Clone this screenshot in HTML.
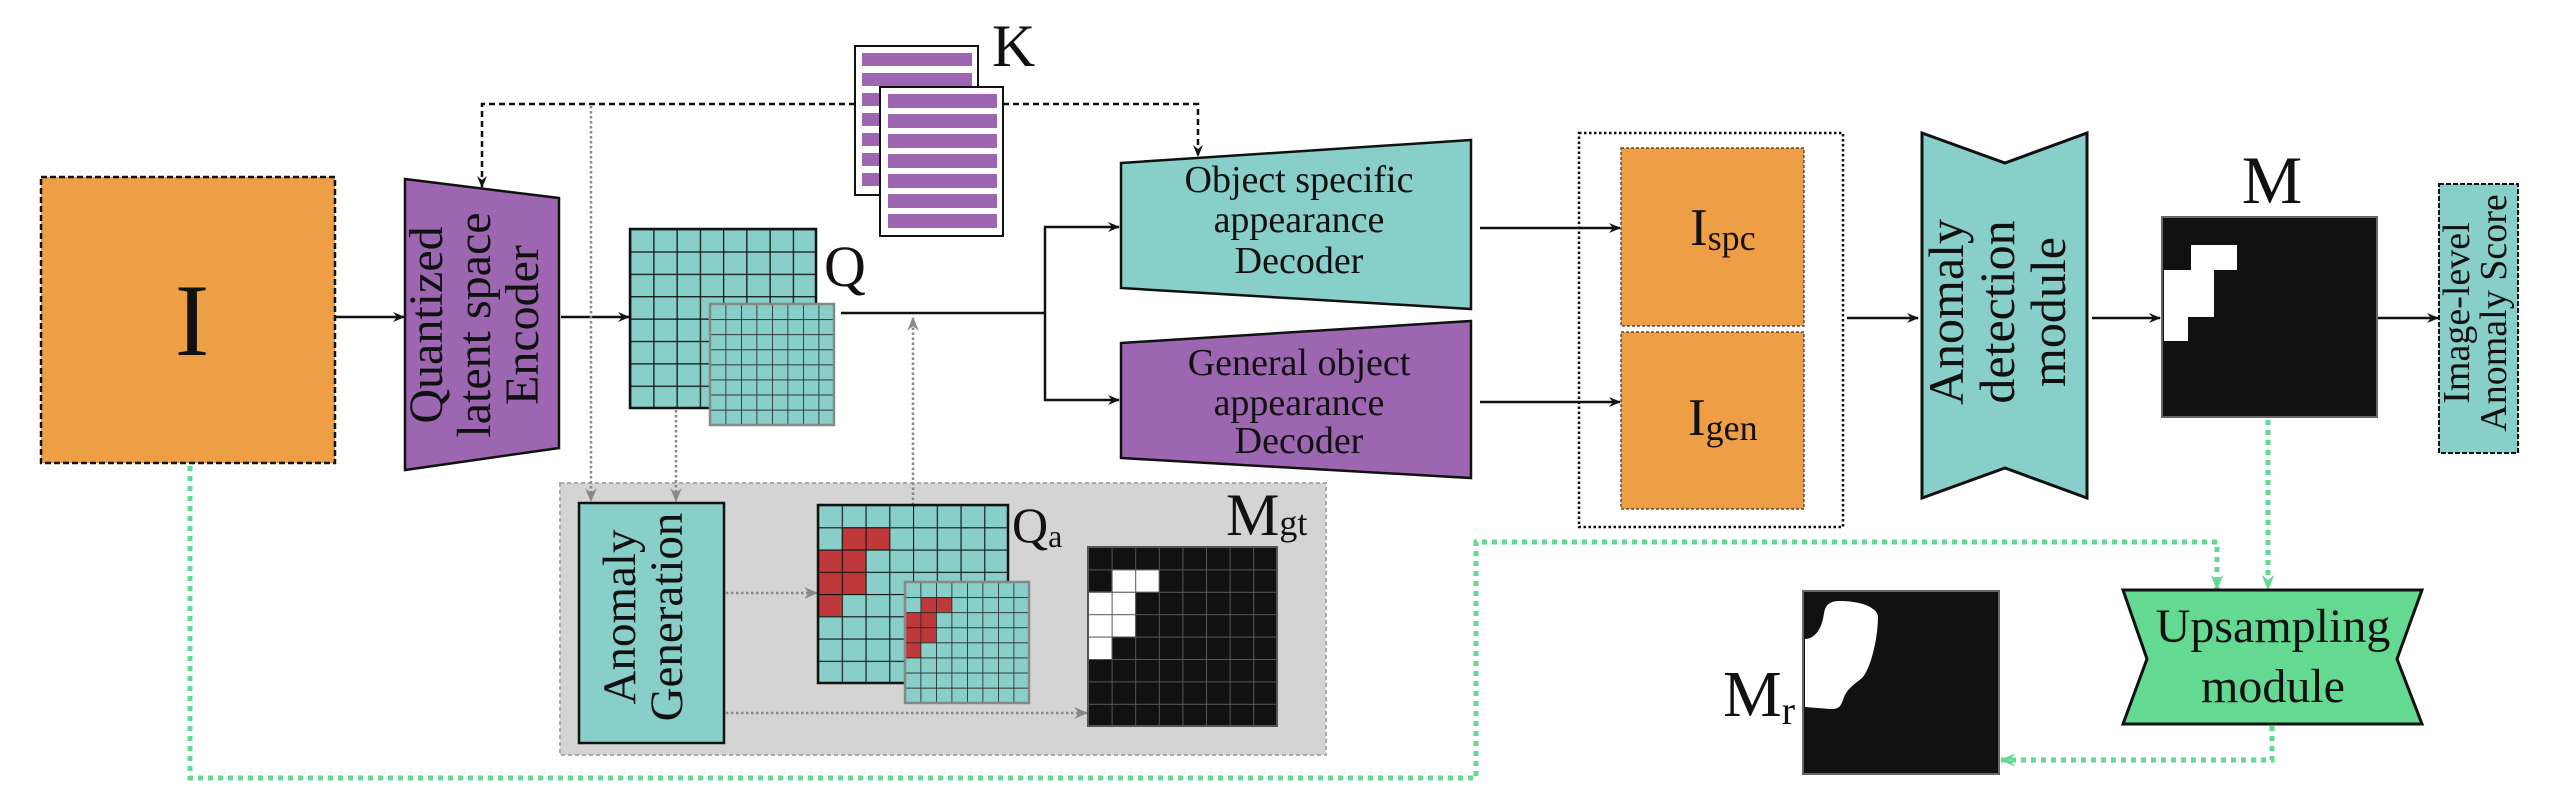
<!DOCTYPE html>
<html><head><meta charset="utf-8"><style>html,body{margin:0;padding:0;background:#fff}svg{display:block;font-family:"Liberation Serif","DejaVu Serif",serif}text,tspan{font-family:"Liberation Serif","DejaVu Serif",serif;fill:#111}</style></head><body>
<svg width="2556" height="802" viewBox="0 0 2556 802" xmlns="http://www.w3.org/2000/svg" font-family="Liberation Serif, DejaVu Serif, serif">
<defs>
<marker id="ab" viewBox="0 0 12 10" refX="11" refY="5" markerWidth="12" markerHeight="10" markerUnits="userSpaceOnUse" orient="auto"><path d="M0 0 L12 5 L0 10 L4 5 Z" fill="#111"/></marker>
<marker id="ag" viewBox="0 0 12 10" refX="11" refY="5" markerWidth="14" markerHeight="12" markerUnits="userSpaceOnUse" orient="auto"><path d="M0 0 L12 5 L0 10 L4 5 Z" fill="#888"/></marker>
<marker id="agr" viewBox="0 0 12 10" refX="11" refY="5" markerWidth="16" markerHeight="13" markerUnits="userSpaceOnUse" orient="auto"><path d="M0 0 L12 5 L0 10 L4 5 Z" fill="#63D992"/></marker>
<pattern id="pQ" patternUnits="userSpaceOnUse" x="630" y="229" width="23.25" height="22.375"><path d="M0 0H23.25M0 0V22.375" stroke="#111" stroke-width="2.5" fill="none"/></pattern>
<pattern id="pQ2" patternUnits="userSpaceOnUse" x="710" y="304" width="15.5" height="15.1"><path d="M0 0H15.5M0 0V15.1" stroke="#222" stroke-width="1.6" fill="none"/></pattern>
<pattern id="pQa" patternUnits="userSpaceOnUse" x="818" y="505" width="23.75" height="22.25"><path d="M0 0H23.75M0 0V22.25" stroke="#111" stroke-width="2.2" fill="none"/></pattern>
<pattern id="pQa2" patternUnits="userSpaceOnUse" x="905" y="582" width="15.5" height="15.1"><path d="M0 0H15.5M0 0V15.1" stroke="#222" stroke-width="1.6" fill="none"/></pattern>
<pattern id="pM" patternUnits="userSpaceOnUse" x="1088" y="547" width="23.6" height="22.4"><path d="M0 0H23.6M0 0V22.4" stroke="#555" stroke-width="2" fill="none"/></pattern>
</defs>

<rect x="560" y="483" width="766" height="272" fill="#D4D4D4" stroke="#aaa" stroke-width="2" stroke-dasharray="4 3"/>

<rect x="41" y="177" width="294" height="286" fill="#EE9E45" stroke="#111" stroke-width="2.5" stroke-dasharray="6 3"/>
<text x="192" y="355" font-size="103" text-anchor="middle">I</text>

<polygon points="405,179 559,198 559,448 405,470" fill="#9C67B0" stroke="#111" stroke-width="2.5"/>
<g transform="translate(490,325) rotate(-90)" font-size="48" text-anchor="middle">
<text x="0" y="-48">Quantized</text>
<text x="0" y="0">latent space</text>
<text x="0" y="48">Encoder</text>
</g>

<rect x="855" y="46" width="123" height="149" fill="#fff" stroke="#111" stroke-width="2"/>
<g fill="#9C67B0">
<rect x="862" y="53" width="110" height="13"/><rect x="862" y="73" width="110" height="13"/><rect x="862" y="93" width="110" height="13"/><rect x="862" y="113" width="110" height="13"/><rect x="862" y="133" width="110" height="13"/><rect x="862" y="153" width="110" height="13"/><rect x="862" y="173" width="110" height="13"/>
</g>
<rect x="880" y="87" width="123" height="149" fill="#fff" stroke="#111" stroke-width="2"/>
<g fill="#9C67B0">
<rect x="888" y="94" width="109" height="14"/><rect x="888" y="114" width="109" height="14"/><rect x="888" y="134" width="109" height="14"/><rect x="888" y="154" width="109" height="14"/><rect x="888" y="174" width="109" height="14"/><rect x="888" y="194" width="109" height="14"/><rect x="888" y="214" width="109" height="14"/>
</g>
<text x="992" y="66" font-size="60">K</text>

<path d="M855 104 H482 V187" fill="none" stroke="#111" stroke-width="2.5" stroke-dasharray="6 4" marker-end="url(#ab)"/>
<path d="M1003 104 H1198 V156" fill="none" stroke="#111" stroke-width="2.5" stroke-dasharray="6 4" marker-end="url(#ab)"/>

<rect x="630" y="229" width="186" height="179" fill="#88CEC9"/>
<rect x="630" y="229" width="186" height="179" fill="url(#pQ)" stroke="#111" stroke-width="2.5"/>
<rect x="710" y="304" width="124" height="121" fill="#88CEC9"/>
<rect x="710" y="304" width="124" height="121" fill="url(#pQ2)" stroke="#888" stroke-width="2.5"/>
<text x="824" y="286" font-size="58">Q</text>

<path d="M336 317 H404" stroke="#111" stroke-width="2.5" marker-end="url(#ab)"/>
<path d="M561 317 H629" stroke="#111" stroke-width="2.5" marker-end="url(#ab)"/>
<path d="M841 313 H1045" stroke="#111" stroke-width="2.5" fill="none"/>
<path d="M1045 313 V227 H1119" stroke="#111" stroke-width="2.5" fill="none" marker-end="url(#ab)"/>
<path d="M1045 313 V400 H1119" stroke="#111" stroke-width="2.5" fill="none" marker-end="url(#ab)"/>

<path d="M591 106 V501" stroke="#888" stroke-width="2.5" stroke-dasharray="2.5 2.5" fill="none" marker-end="url(#ag)"/>
<path d="M676 410 V501" stroke="#888" stroke-width="2.5" stroke-dasharray="2.5 2.5" fill="none" marker-end="url(#ag)"/>
<path d="M913 505 V318" stroke="#888" stroke-width="2.5" stroke-dasharray="2.5 2.5" fill="none" marker-end="url(#ag)"/>
<path d="M726 593 H817" stroke="#888" stroke-width="2.5" stroke-dasharray="2.5 2.5" fill="none" marker-end="url(#ag)"/>
<path d="M726 713 H1087" stroke="#888" stroke-width="2.5" stroke-dasharray="2.5 2.5" fill="none" marker-end="url(#ag)"/>

<rect x="579" y="503" width="145" height="240" fill="#88CEC9" stroke="#111" stroke-width="2.5"/>
<g transform="translate(659,617) rotate(-90)" font-size="47" text-anchor="middle">
<text x="0" y="-24">Anomaly</text>
<text x="0" y="23">Generation</text>
</g>

<rect x="818" y="505" width="190" height="178" fill="#88CEC9"/>
<g fill="#C0393A">
<rect x="841.75" y="527.25" width="47.5" height="22.25"/>
<rect x="818" y="549.5" width="47.5" height="44.5"/>
<rect x="818" y="594" width="23.75" height="22.25"/>
</g>
<rect x="818" y="505" width="190" height="178" fill="url(#pQa)" stroke="#111" stroke-width="2.5"/>
<rect x="905" y="582" width="124" height="121" fill="#88CEC9"/>
<g fill="#C0393A">
<rect x="920.5" y="597.1" width="31" height="15.1"/>
<rect x="905" y="612.2" width="31" height="30.2"/>
<rect x="905" y="642.4" width="15.5" height="15.1"/>
</g>
<rect x="905" y="582" width="124" height="121" fill="url(#pQa2)" stroke="#888" stroke-width="2.5"/>
<text x="1012" y="542" font-size="50">Q<tspan font-size="32" dy="5">a</tspan></text>

<rect x="1088" y="547" width="189" height="179" fill="#111"/>
<g fill="#fff">
<rect x="1111.6" y="569.4" width="47.2" height="22.4"/>
<rect x="1088" y="591.8" width="47.2" height="44.8"/>
<rect x="1088" y="636.6" width="23.6" height="22.4"/>
</g>
<rect x="1088" y="547" width="189" height="179" fill="url(#pM)" stroke="#555" stroke-width="2"/>
<text x="1226" y="535" font-size="60">M<tspan font-size="36">gt</tspan></text>

<polygon points="1121,163 1471,140 1471,309 1121,288" fill="#88CEC9" stroke="#111" stroke-width="2.5"/>
<g font-size="38" text-anchor="middle">
<text x="1299" y="192">Object specific</text>
<text x="1299" y="232">appearance</text>
<text x="1299" y="273">Decoder</text>
</g>
<polygon points="1121,343 1471,321 1471,478 1121,458" fill="#9C67B0" stroke="#111" stroke-width="2.5"/>
<g font-size="38" text-anchor="middle">
<text x="1299" y="375">General object</text>
<text x="1299" y="415">appearance</text>
<text x="1299" y="453">Decoder</text>
</g>
<path d="M1480 228 H1620" stroke="#111" stroke-width="2.5" marker-end="url(#ab)"/>
<path d="M1480 402 H1620" stroke="#111" stroke-width="2.5" marker-end="url(#ab)"/>

<rect x="1579" y="133" width="264" height="394" fill="none" stroke="#111" stroke-width="2.5" stroke-dasharray="2.5 2.5"/>
<rect x="1621" y="148" width="183" height="178" fill="#EE9E45" stroke="#333" stroke-width="1.2" stroke-dasharray="3 2"/>
<rect x="1621" y="332" width="183" height="177" fill="#EE9E45" stroke="#333" stroke-width="1.2" stroke-dasharray="3 2"/>
<text x="1690" y="245" font-size="53">I<tspan font-size="36" dy="5">spc</tspan></text>
<text x="1688" y="435" font-size="53">I<tspan font-size="36" dy="5">gen</tspan></text>
<path d="M1847 318 H1918" stroke="#111" stroke-width="2.5" marker-end="url(#ab)"/>

<polygon points="1922,133 2005,163 2087,133 2087,498 2005,468 1922,498" fill="#88CEC9" stroke="#111" stroke-width="3"/>
<g transform="translate(2014,312) rotate(-90)" font-size="50" text-anchor="middle">
<text x="0" y="-51">Anomaly</text>
<text x="0" y="0">detection</text>
<text x="0" y="51">module</text>
</g>
<path d="M2092 318 H2160" stroke="#111" stroke-width="2.5" marker-end="url(#ab)"/>

<rect x="2162" y="217" width="215" height="200" fill="#111" stroke="#666" stroke-width="2"/>
<g fill="#fff">
<rect x="2191" y="245" width="46" height="25"/>
<rect x="2164" y="270" width="50" height="47"/>
<rect x="2164" y="317" width="24" height="24"/>
</g>
<text x="2272" y="203" font-size="68" text-anchor="middle">M</text>
<path d="M2378 318 H2438" stroke="#111" stroke-width="2.5" marker-end="url(#ab)"/>

<rect x="2439" y="184" width="79" height="269" fill="#88CEC9" stroke="#111" stroke-width="2" stroke-dasharray="5 2"/>
<g transform="translate(2478,313) rotate(-90)" font-size="38" text-anchor="middle">
<text x="0" y="-9">Image-level</text>
<text x="0" y="28">Anomaly Score</text>
</g>

<path d="M190 466 V778 H1476 V542 H2217 V589" fill="none" stroke="#63D992" stroke-width="5" stroke-dasharray="5 5" marker-end="url(#agr)"/>
<path d="M2268 420 V589" fill="none" stroke="#63D992" stroke-width="5" stroke-dasharray="5 5" marker-end="url(#agr)"/>
<path d="M2272 726 V760 H2001" fill="none" stroke="#63D992" stroke-width="5" stroke-dasharray="5 5" marker-end="url(#agr)"/>

<polygon points="2123,590 2422,590 2397,659 2422,724 2123,724 2147,659" fill="#63D992" stroke="#111" stroke-width="3"/>
<text x="2273" y="642" font-size="48" text-anchor="middle">Upsampling</text>
<text x="2273" y="702" font-size="48" text-anchor="middle">module</text>

<rect x="1803" y="591" width="196" height="183" fill="#111" stroke="#666" stroke-width="2"/>
<path d="M1824 613 C1826 603 1832 601 1840 601 C1858 601 1876 606 1878 616 C1878 640 1870 670 1862 678 C1852 686 1846 690 1843 700 C1840 708 1838 709 1830 709 L1805 707 L1805 639 C1814 639 1822 630 1824 613 Z" fill="#fff"/>
<text x="1723" y="716" font-size="66">M<tspan font-size="40" dy="8">r</tspan></text>
</svg>
</body></html>
